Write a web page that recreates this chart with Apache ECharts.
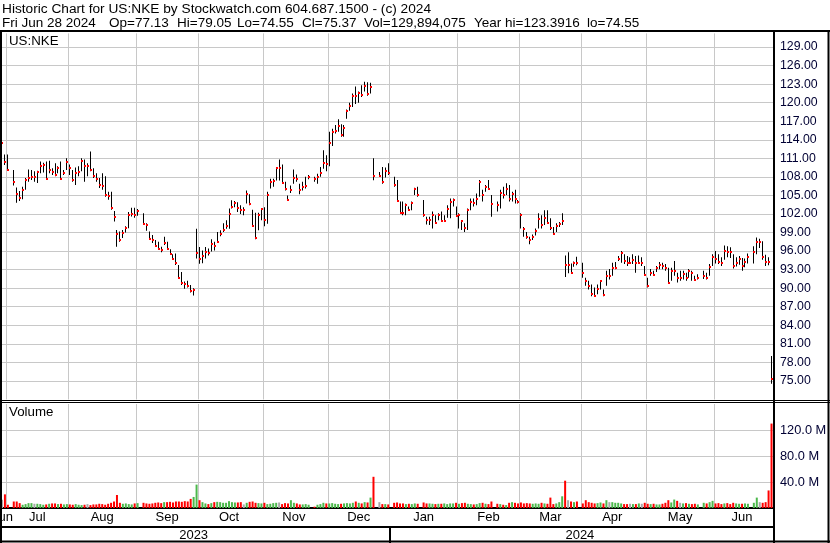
<!DOCTYPE html>
<html><head><meta charset="utf-8">
<script src="https://cdn.jsdelivr.net/npm/echarts/dist/echarts.min.js"></script>
<style>html,body{margin:0;padding:0;background:#fff}#c{width:830px;height:543px}</style>
</head><body><div id="c"></div>
<script>
// ---- calendar ----
const firstDay = '2023-06-29', lastDay = '2024-06-28';
const holidays = ['2023-07-04','2023-09-04','2023-11-23','2023-12-25','2024-01-01','2024-01-15','2024-02-19','2024-03-29','2024-05-27','2024-06-19'];
const monthNames = ['Jan','Feb','Mar','Apr','May','Jun','Jul','Aug','Sep','Oct','Nov','Dec'];
const priceTicks = {min: 72, max: 131.2, step: 3};
const volumeTicks = {min: 0, max: 160e6, step: 40e6};
const titleText = 'Historic Chart for US:NKE by Stockwatch.com 604.687.1500 - (c) 2024';
const quoteFields = ['Fri Jun 28 2024', 'Op=77.13', 'Hi=79.05', 'Lo=74.55', 'Cl=75.37', 'Vol=129,894,075', 'Year hi=123.3916', 'lo=74.55'];

// ---- data (one entry per trading day) ----
const highs = [
114.6,111.6,
111.6,109.1,106.3,105.7,106.4,107.8,109.2,109.1,108.9,109.0,110.5,110.3,110.5,110.6,109.4,110.2,109.7,110.5,109.1,111.0,
110.0,109.1,109.5,109.7,111.0,110.8,110.2,112.1,109.4,108.6,107.8,108.6,108.1,105.6,105.6,102.5,99.4,99.15,99.4,100.0,102.3,103.0,103.0,
102.8,102.1,100.5,99.15,98.6,97.8,97.5,96.7,98.3,97.5,96.3,95.5,95.6,93.75,92.6,91.1,91.2,90.5,90.0,99.6,
96.65,96.1,96.65,96.4,97.9,97.5,99.1,99.35,100.5,101.0,102.9,104.2,104.1,103.9,103.4,103.1,105.8,105.2,102.7,102.2,102.2,102.9,
103.1,105.6,107.7,107.7,109.6,110.8,110.0,107.2,105.0,106.6,109.2,108.4,106.9,107.2,108.0,108.3,108.0,108.5,109.6,112.3,111.5,
115.3,115.8,116.4,117.3,116.5,116.4,118.9,120.0,121.5,122.6,121.8,122.8,123.39,123.3,123.2,111.0,108.8,109.6,109.5,110.2,
108.0,107.5,104.0,104.0,103.7,103.2,104.0,106.25,106.4,104.25,101.55,101.55,102.4,101.8,102.1,102.4,101.8,103.4,104.5,104.5,103.2,
102.1,101.0,100.5,102.9,104.5,104.5,105.3,107.5,105.9,106.7,107.5,105.05,104.0,105.9,106.4,106.95,106.7,105.6,105.9,104.25,
102.1,99.9,99.1,98.3,98.7,99.65,102.1,101.8,102.6,102.6,101.3,99.9,100.5,100.7,102.1,95.3,95.8,94.0,94.3,95.1,
94.1,91.7,91.2,90.6,90.1,90.6,91.2,89.8,92.8,93.1,94.1,94.25,95.2,96.0,95.5,95.2,95.0,95.5,95.2,95.3,95.0,93.6,
91.7,93.1,92.8,93.6,94.25,94.1,93.9,93.3,93.3,94.4,92.5,92.8,92.8,92.5,93.1,92.8,92.0,92.25,92.8,92.5,93.9,95.5,
96.0,95.5,95.0,96.9,96.8,96.6,95.5,95.0,95.2,94.9,94.8,95.6,96.8,98.2,98.0,97.6,95.4,95.0,79.05
];
const lows = [
112.8,109.9,
109.1,106.6,103.8,104.1,104.4,105.9,107.2,107.5,107.2,107.0,108.6,108.7,107.5,108.6,108.3,108.1,108.6,107.5,108.3,109.1,
108.3,107.2,106.7,108.1,108.9,107.2,108.1,108.9,107.8,107.2,106.2,105.9,104.8,104.3,102.7,100.8,96.7,97.5,98.1,99.0,99.7,101.6,101.4,
101.7,100.4,99.3,97.8,97.3,96.7,96.2,95.8,97.0,96.2,95.4,94.6,93.75,91.5,90.5,89.9,90.1,89.3,88.8,94.8,
93.95,94.05,94.8,95.3,95.95,96.1,97.5,98.4,99.1,99.6,99.6,102.9,103.1,102.3,102.0,101.8,103.7,103.4,99.9,97.9,99.35,101.0,
100.0,100.4,106.1,106.4,107.4,107.4,106.9,105.8,104.1,105.4,106.9,107.2,105.2,105.8,106.1,107.6,107.2,106.9,108.0,109.3,108.9,
109.7,113.0,115.0,115.3,114.5,114.5,117.4,118.7,119.3,119.8,120.0,120.9,121.8,121.1,121.5,107.45,108.0,106.9,107.9,108.3,
106.4,104.0,102.1,101.8,101.8,102.5,102.6,105.05,104.8,101.55,100.3,100.2,99.65,100.5,101.0,100.85,100.7,101.4,101.3,103.2,101.55,
99.65,99.4,99.1,99.4,102.6,103.2,103.4,104.8,104.0,105.6,105.9,101.55,102.4,102.9,104.5,105.05,104.0,104.0,103.7,103.7,
99.65,98.3,98.0,97.1,97.8,98.5,99.65,99.65,100.2,100.5,99.4,98.6,99.1,99.9,100.2,91.8,92.4,92.5,93.45,93.7,
91.7,90.4,89.8,88.7,88.6,89.0,89.8,88.7,90.4,91.4,92.0,93.05,94.4,94.1,93.9,93.6,93.9,93.9,92.5,94.0,93.6,92.0,
90.1,92.0,92.05,92.6,93.05,93.05,92.8,90.8,91.2,92.0,90.9,91.2,91.4,91.2,91.7,91.2,91.2,91.4,91.5,91.4,92.0,93.6,
94.0,93.9,93.6,94.6,95.0,94.9,93.2,93.5,93.8,92.8,93.4,94.0,94.0,95.5,96.5,94.6,93.6,93.7,74.55
];
const closes = [
113.5,110.4,
109.1,107.2,105.2,104.55,105.9,107.5,107.8,108.0,108.0,108.8,109.8,110.0,107.7,109.1,108.8,108.3,109.4,107.7,108.65,110.4,
109.4,107.5,108.65,108.8,110.6,109.8,109.8,109.1,108.2,107.6,106.7,106.5,105.1,104.9,102.9,101.5,98.7,97.8,98.9,99.7,101.85,102.0,101.85,
102.5,100.4,100.2,98.0,97.8,96.9,96.3,96.1,97.3,96.4,95.5,94.7,94.0,91.6,90.9,90.7,90.35,89.5,89.7,95.7,
94.65,95.2,95.8,95.7,97.1,96.9,97.5,98.7,99.35,100.0,102.05,103.1,103.7,103.0,102.7,102.7,105.2,103.6,100.0,98.05,101.8,102.75,
101.0,105.0,107.1,107.3,109.4,109.4,107.0,106.1,104.2,105.8,107.8,107.6,105.9,106.3,106.6,107.9,107.6,107.9,108.7,110.25,110.15,
113.4,115.2,115.4,116.25,114.85,115.9,118.6,119.5,121.1,121.05,121.5,121.2,122.7,121.4,122.5,108.1,108.1,107.1,109.0,108.6,
106.7,104.1,102.2,102.1,103.5,102.7,103.8,106.0,105.05,101.8,101.0,101.1,101.8,100.6,101.9,100.85,100.9,102.8,103.9,104.2,101.7,
101.8,100.85,99.7,102.6,104.0,103.7,104.5,107.1,105.05,106.3,106.0,103.6,103.4,105.4,105.05,106.0,104.4,105.2,104.4,104.0,
101.9,99.55,98.3,97.8,98.3,99.2,101.2,100.2,101.4,100.5,99.7,98.7,100.0,100.3,100.85,93.8,93.8,92.5,94.15,94.0,
92.5,91.2,90.4,89.0,88.7,89.9,91.1,88.9,92.0,92.0,93.2,93.3,94.8,95.7,94.4,94.0,94.0,94.6,94.0,94.1,94.1,92.1,
90.4,92.4,92.1,93.2,93.8,93.6,93.2,90.9,92.7,92.8,91.7,91.7,92.25,91.7,92.8,92.4,91.3,91.7,92.0,91.7,93.4,95.05,
94.8,94.3,94.0,96.0,95.9,95.8,93.6,94.0,94.7,93.6,94.2,95.0,95.8,97.4,97.4,95.0,94.3,94.2,75.37
];
// volume in millions of shares
const volumesM = [
12.8,21,
5,10,10,7.5,5,6,7.5,7.5,6.5,6.5,6,5,5.5,6.5,7,7,6,6.5,5.5,6,
5.5,5,6,5,4.5,5,6,4.5,5.5,5.5,6.5,6,5,6.5,8,10,20,8,6.5,7,6,5.5,7,
7.5,8,7,6.5,7,8,8.5,7.5,9,9,9.5,8.5,10,10,9.5,10.5,10,14,17,36,
12,9,7,6,7.5,9,9.5,9,8,8,10.5,9,8.5,8.5,9,5.5,8,9.5,10,8,7.5,7,
8,6,6.5,7.5,8,8.5,6,7.5,7,12,8,7,5.5,5.5,6,5,2,5,6,8,7,
7,7.5,6.5,6,6.5,7,7.5,7,8,10,8,7,9,8.5,16,48,9,6,6,5.5,
8,8.5,7,7,6,6.5,6,7,6.5,8.5,7,7,6.5,6,6.5,6.5,7,6,7,7,8,
6.5,7.5,8,6.5,6,5.5,6,7.5,8,6.5,6,10,6.5,6,5,4.5,8,9,8,7,
8.5,7,7.5,7,6.5,7,6.5,8,7,6.5,16,6,7,9,18,42,12,10,9,10,
7,12,9,8,7,7.5,8.5,7,12,9,9,8,8,7,6,6,6.5,6,6,7,6.5,8,
6.5,6,6.5,5.5,5.5,6.5,8,12,8.5,13,11,8,7,7.5,6.5,6,6.5,5.5,8,7,9,11,
7,7.5,6,7,7.5,6,8,7,6.5,6.5,7,6.5,8,16,9,8,9,27,129.9
];

// ---- build weekday slots (holidays left empty) ----
const slots = [];
for (let t = Date.parse(firstDay + 'T00:00:00Z'); t <= Date.parse(lastDay + 'T00:00:00Z'); t += 86400000) {
  const d = new Date(t), wd = d.getUTCDay();
  if (wd === 0 || wd === 6) continue;
  slots.push(d.toISOString().slice(0, 10));
}
const tradingSlots = slots.map((s, i) => holidays.includes(s) ? -1 : i).filter(i => i >= 0);
const n = Math.min(tradingSlots.length, closes.length, highs.length, lows.length, volumesM.length);

const ohlc = [];
const volData = slots.map(() => '-');
for (let k = 0; k < n; k++) {
  const si = tradingSlots[k];
  ohlc.push([si, highs[k], lows[k], closes[k]]);
  let col = '#a8a8a8';
  if (k > 0) col = closes[k] > closes[k - 1] ? '#4cb84c' : (closes[k] < closes[k - 1] ? '#ff0000' : '#a8a8a8');
  volData[si] = {value: volumesM[k] * 1e6, itemStyle: {color: col}};
}

// month / year boundaries and centres
const monthStart = new Set(), monthMid = new Set(), yearStart = [], yearMid = new Set();
function groups(keyFn) {
  const g = []; let cur = null;
  slots.forEach((s, i) => { const k = keyFn(s); if (!cur || cur.k !== k) { cur = {k, a: i, b: i}; g.push(cur); } else cur.b = i; });
  return g;
}
const monthGroups = groups(s => s.slice(0, 7));
monthGroups.forEach(g => { if (g.a > 0) monthStart.add(g.a); if (g.b - g.a > 4) monthMid.add(Math.floor((g.a + g.b) / 2)); });
groups(s => s.slice(0, 4)).forEach(g => { if (g.a > 0) yearStart.push(g.a); yearMid.add(Math.floor((g.a + g.b) / 2)); });
const partialMonth = monthNames[+monthGroups[0].k.slice(5, 7) - 1];

const FONT = "'Liberation Sans', Arial, sans-serif";
const gridColor = '#c8c8c8';
const labelColor = '#000033';

const chart = echarts.init(document.getElementById('c'), null, {renderer: 'canvas'});
const W = 830, H = 543, AX = 773;
const quoteX = [2, 109, 177, 237, 302, 364, 474, 587];
const headerGraphics = quoteFields.map((t, i) => ({type: 'text', x: quoteX[i], y: 16, z: 100,
  style: {text: t, fill: '#000', fontSize: 13.5, fontFamily: FONT}}));

chart.setOption({
  animation: false,
  backgroundColor: '#fff',
  grid: [
    {left: 0.5, right: W - AX, top: 33.4, bottom: H - 399.5, outerBoundsMode: 'none', containLabel: false},
    {left: 0.5, right: W - AX, top: 404, bottom: H - 508, outerBoundsMode: 'none', containLabel: false}
  ],
  xAxis: [
    {gridIndex: 0, type: 'category', data: slots, boundaryGap: true,
     axisLine: {show: false}, axisTick: {show: false}, axisLabel: {show: false},
     splitLine: {show: true, interval: i => monthStart.has(i), lineStyle: {color: gridColor, width: 1}}},
    {gridIndex: 1, type: 'category', data: slots, boundaryGap: true, position: 'bottom',
     axisLine: {show: true, onZero: false, lineStyle: {color: '#000', width: 2}},
     axisTick: {show: false},
     axisLabel: {interval: i => monthMid.has(i), formatter: v => monthNames[+v.slice(5, 7) - 1],
                 color: '#000', fontSize: 13, fontFamily: FONT, margin: 3, hideOverlap: false},
     splitLine: {show: true, interval: i => monthStart.has(i), lineStyle: {color: gridColor, width: 1}}},
    {gridIndex: 1, type: 'category', data: slots, boundaryGap: true, position: 'bottom', offset: 19,
     axisLine: {show: true, onZero: false, lineStyle: {color: '#000', width: 2}},
     axisTick: {show: false},
     axisLabel: {interval: i => yearMid.has(i), formatter: v => v.slice(0, 4),
                 color: '#000', fontSize: 13, fontFamily: FONT, margin: 2},
     splitLine: {show: false}}
  ],
  yAxis: [
    {gridIndex: 0, type: 'value', position: 'right', min: priceTicks.min, max: priceTicks.max, interval: priceTicks.step,
     axisLine: {show: false}, axisTick: {show: false},
     splitLine: {show: true, showMinLine: false, showMaxLine: false, lineStyle: {color: gridColor, width: 1}},
     axisLabel: {showMinLabel: false, showMaxLabel: false, margin: 7, color: labelColor, fontSize: 12.3, fontFamily: FONT,
                 formatter: v => v.toFixed(2)}},
    {gridIndex: 1, type: 'value', position: 'right', min: volumeTicks.min, max: volumeTicks.max, interval: volumeTicks.step,
     axisLine: {show: false}, axisTick: {show: false},
     splitLine: {show: true, showMinLine: false, showMaxLine: false, lineStyle: {color: gridColor, width: 1}},
     axisLabel: {showMinLabel: false, showMaxLabel: false, margin: 7, color: labelColor, fontSize: 12.8, fontFamily: FONT,
                 formatter: v => (v / 1e6).toFixed(1) + ' M'}}
  ],
  series: [
    {type: 'custom', xAxisIndex: 0, yAxisIndex: 0, data: ohlc, encode: {x: 0, y: [1, 2, 3]},
     renderItem: (params, api) => {
       const idx = api.value(0);
       const pH = api.coord([idx, api.value(1)]);
       const pL = api.coord([idx, api.value(2)]);
       const pC = api.coord([idx, api.value(3)]);
       const x = Math.floor(pH[0]);
       return {type: 'group', children: [
         {type: 'rect', shape: {x: x, y: pH[1], width: 1, height: Math.max(1, pL[1] - pH[1])}, style: {fill: '#000'}},
         {type: 'rect', shape: {x: x, y: Math.round(pC[1]) - 1, width: 2, height: 2}, style: {fill: '#ff0000'}}
       ]};
     }},
    {type: 'bar', xAxisIndex: 1, yAxisIndex: 1, data: volData, barWidth: 2}
  ],
  graphic: {elements: [
    {id: 'title', type: 'text', x: 2, y: 2, z: 100, style: {text: titleText, fill: '#000', fontSize: 13.7, fontFamily: FONT}},
    ...headerGraphics,
    {type: 'text', x: 9, y: 35, z: 100, style: {text: 'US:NKE', fill: '#000', fontSize: 13.3, fontFamily: FONT}},
    {type: 'text', x: 9, y: 406, z: 100, style: {text: 'Volume', fill: '#000', fontSize: 13.3, fontFamily: FONT}},
    {type: 'text', x: -8, y: 511, z: 100, style: {text: partialMonth, fill: '#000', fontSize: 13, fontFamily: FONT}},
    {type: 'line', z: 100, shape: {x1: 0, y1: 31, x2: W, y2: 31}, style: {stroke: '#000', lineWidth: 2}},
    {type: 'line', z: 100, shape: {x1: 0, y1: 400.5, x2: W, y2: 400.5}, style: {stroke: '#000', lineWidth: 1}},
    {type: 'line', z: 100, shape: {x1: 0, y1: 402.5, x2: W, y2: 402.5}, style: {stroke: '#000', lineWidth: 1}},
    {type: 'line', z: 100, shape: {x1: 1, y1: 30, x2: 1, y2: H}, style: {stroke: '#000', lineWidth: 2}},
    {type: 'line', z: 100, shape: {x1: 828.5, y1: 30, x2: 828.5, y2: H}, style: {stroke: '#000', lineWidth: 2}},
    {type: 'line', z: 100, shape: {x1: AX + 1, y1: 30, x2: AX + 1, y2: H}, style: {stroke: '#000', lineWidth: 2}},
    {type: 'line', z: 100, shape: {x1: 0, y1: 541.5, x2: W, y2: 541.5}, style: {stroke: '#000', lineWidth: 2}}
  ]}
});

// year separators in the bottom row, located through the axis scale
const seps = yearStart.map((si, j) => {
  const c0 = chart.convertToPixel({xAxisIndex: 2}, slots[si]);
  const c1 = chart.convertToPixel({xAxisIndex: 2}, slots[si - 1]);
  const x = Math.round((c0 + c1) / 2);
  return {id: 'ysep' + j, type: 'line', z: 100, shape: {x1: x, y1: 527, x2: x, y2: H}, style: {stroke: '#000', lineWidth: 2}};
});
chart.setOption({graphic: {elements: seps}});
</script>
</body></html>
